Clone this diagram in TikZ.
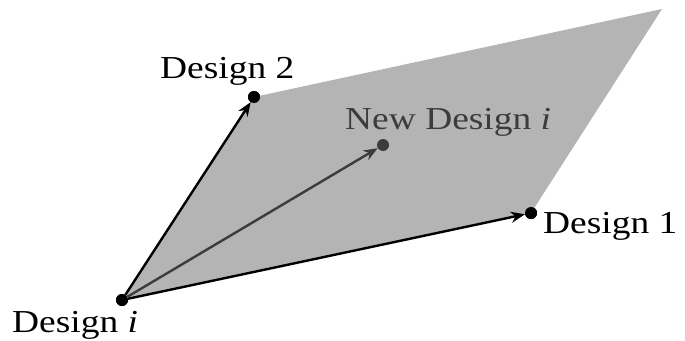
\documentclass[tikz,border=0pt]{standalone}
\usepackage{fontspec}
\setmainfont{Liberation Serif}
\usetikzlibrary{arrows.meta}
\definecolor{planegray}{RGB}{180,180,180}
\definecolor{newgray}{RGB}{60,60,60}
\newcommand\wtext[1]{\scalebox{1.17}[1]{#1}}
\begin{document}
\begin{tikzpicture}[x=1pt,y=-1pt,
  dot/.style={circle,fill=#1,inner sep=0pt,minimum size=12pt},
  dot/.default=black,
  vec/.style={line width=2.4pt,-{Stealth[length=14pt,width=11pt]}},
  lbl/.style={anchor=base west,inner sep=0pt,font=\fontsize{32}{38}\selectfont}]
\useasboundingbox (0,0) rectangle (685,340);
\coordinate (c) at (662,9);
\node[dot] (pi) at (122,300) {};
\node[dot] (p2) at (254,97) {};
\node[dot] (p1) at (531,213) {};
\fill[planegray] (pi.center) -- (p2.center) -- (c) -- (p1.center) -- cycle;
\node[dot] at (pi) {};
\node[dot] at (p2) {};
\node[dot] at (p1) {};
\node[dot=newgray] (pn) at (383,145) {};
\draw[vec] (pi) -- (p2);
\draw[vec] (pi) -- (p1);
\draw[vec,draw=newgray,fill=newgray] (pi) -- (pn);
\node[lbl] (l2) at (160,78) {\wtext{Design 2}};
\node[lbl,text=newgray] (ln) at (345,129) {\wtext{New Design \textit{i}}};
\node[lbl] (l1) at (543,233) {\wtext{Design 1}};
\node[lbl] (li) at (12,332) {\wtext{Design \textit{i}}};
\end{tikzpicture}
\end{document}
